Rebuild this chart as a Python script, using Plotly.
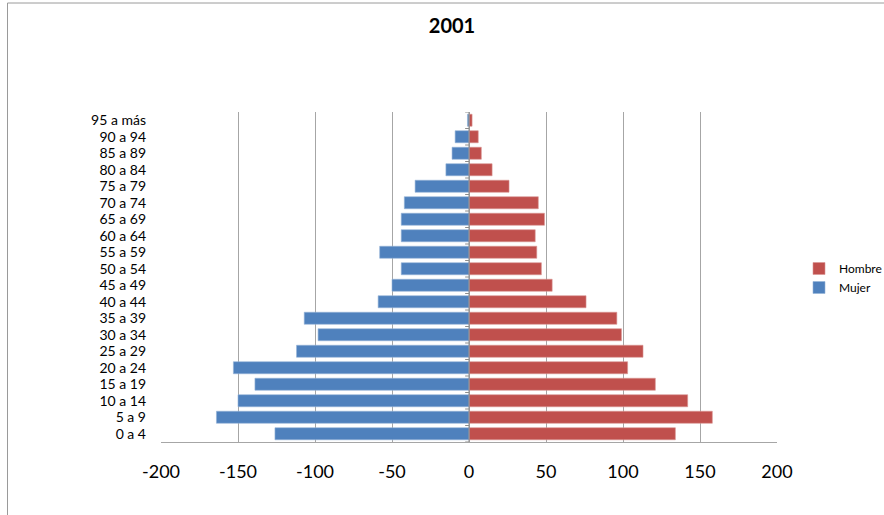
import plotly.graph_objects as go

categories = ["0 a 4", "5 a 9", "10 a 14", "15 a 19", "20 a 24", "25 a 29", "30 a 34",
              "35 a 39", "40 a 44", "45 a 49", "50 a 54", "55 a 59", "60 a 64", "65 a 69",
              "70 a 74", "75 a 79", "80 a 84", "85 a 89", "90 a 94", "95 a más"]
hombre = [134, 158, 142, 121, 103, 113, 99, 96, 76, 54, 47, 44, 43, 49, 45, 26, 15, 8, 6, 2]
mujer = [-126, -164, -150, -139, -153, -112, -98, -107, -59, -50, -44, -58, -44, -44, -42, -35, -15, -11, -9, -1]
x_ticks = [-200, -150, -100, -50, 0, 50, 100, 150, 200]

W, H = 884, 515
L, R, T, B = 161, 107, 112, 73
pw, ph = W - L - R, H - T - B

FONT = "Lato, Carlito, Calibri, sans-serif"
GRID = "#A6A6A6"

fig = go.Figure()
fig.add_trace(go.Bar(y=categories, x=hombre, orientation="h", name="Hombre",
                     marker=dict(color="#C0504D", line=dict(color="#D99694", width=0.6))))
fig.add_trace(go.Bar(y=categories, x=mujer, orientation="h", name="Mujer",
                     marker=dict(color="#4F81BD", line=dict(color="#95B3D7", width=0.6))))


def px_to_paper_x(px):
    return (px - L) / pw


def px_to_paper_y(py):
    return (H - B - py) / ph


shapes = [
    # category axis line at zero
    dict(type="line", xref="x", yref="paper", x0=0, x1=0, y0=0, y1=1,
         line=dict(color="#8C8C8C", width=1), layer="above"),
    # outer chart frame (top and left)
    dict(type="line", xref="paper", yref="paper",
         x0=px_to_paper_x(7.5), x1=px_to_paper_x(W + 5), y0=px_to_paper_y(3), y1=px_to_paper_y(3),
         line=dict(color="#9A9A9A", width=1)),
    dict(type="line", xref="paper", yref="paper",
         x0=px_to_paper_x(7.5), x1=px_to_paper_x(7.5), y0=px_to_paper_y(3), y1=px_to_paper_y(H + 5),
         line=dict(color="#9A9A9A", width=1)),
]
# small tick marks on the category axis, between categories
for i in range(len(categories) + 1):
    shapes.append(dict(type="line", xref="x", yref="y", x0=-2.5, x1=0, y0=i - 0.5, y1=i - 0.5,
                       line=dict(color="#8C8C8C", width=1), layer="above"))

fig.update_layout(
    width=W, height=H,
    margin=dict(l=L, r=R, t=T, b=B, pad=0, autoexpand=False),
    paper_bgcolor="white", plot_bgcolor="white",
    barmode="relative", bargap=0.27,
    font=dict(family=FONT, color="black"),
    title=dict(text="<b>2001</b>", x=452 / W, xref="container", xanchor="center",
               y=1 - 26 / H, yref="container", yanchor="middle",
               font=dict(size=20, family=FONT, color="black")),
    xaxis=dict(range=[-200, 200], tickmode="array", tickvals=x_ticks,
               ticktext=[str(v) for v in x_ticks],
               showgrid=True, gridcolor=GRID, gridwidth=1, zeroline=False,
               showline=True, linecolor=GRID, linewidth=1, mirror=False,
               ticks="", ticklabelstandoff=13,
               tickfont=dict(size=18, family=FONT, color="black")),
    yaxis=dict(categoryorder="array", categoryarray=categories, range=[-0.5, len(categories) - 0.5],
               tickmode="array", tickvals=categories, ticktext=categories,
               showgrid=False, zeroline=False, showline=False, ticks="",
               ticklabelstandoff=14,
               tickfont=dict(size=14, family=FONT, color="black")),
    legend=dict(x=px_to_paper_x(799), xanchor="left", y=px_to_paper_y(254), yanchor="top",
                traceorder="normal", font=dict(size=12, family=FONT, color="black"),
                itemwidth=30, tracegroupgap=0, bgcolor="rgba(0,0,0,0)"),
    shapes=shapes,
    showlegend=True,
)

fig.write_html("out.html", config={"displayModeBar": False},
               post_script="document.body.style.margin='0';")
